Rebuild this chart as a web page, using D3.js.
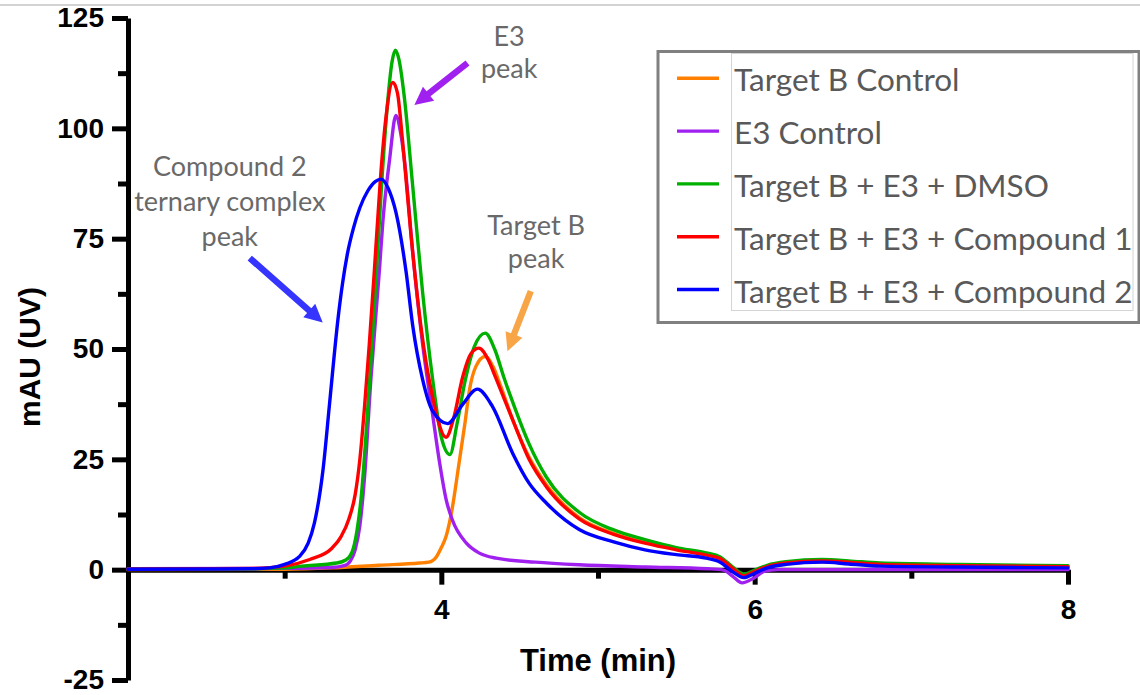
<!DOCTYPE html>
<html>
<head>
<meta charset="utf-8">
<script src="https://cdn.jsdelivr.net/npm/d3@7"></script>
<style>
  body { margin: 0; background: #fff; }
  svg { display: block; }
</style>
</head>
<body>
<svg id="chart"></svg>
<script>
'use strict';

// chromatogram traces, [time (min), mAU]
var targetBControl = [
  [2.0, 0], [3.0, 0.1], [3.3, 0.4], [3.6, 1.0], [3.86, 1.5], [3.92, 1.7], [3.97, 3], [4.0, 5],
  [4.03, 7.5], [4.07, 14], [4.11, 23.4], [4.15, 33], [4.18, 40.8], [4.22, 46], [4.28, 48.3],
  [4.33, 46], [4.38, 41.5], [4.455, 34], [4.56, 25.5], [4.67, 19.3], [4.88, 11.8], [5.1, 8.2],
  [5.3, 6.2], [5.5, 4.7], [5.69, 3.5], [5.78, 2.6], [5.86, 0.5], [5.93, -1.2], [6.0, -0.4],
  [6.08, 0.6], [6.2, 1.3], [6.43, 1.8], [6.8, 1.1], [7.3, 0.8], [8.0, 0.6]
];
var e3Control = [
  [2.0, 0.2], [3.0, 0.3], [3.3, 0.5], [3.38, 0.9], [3.42, 2.0], [3.45, 4.5], [3.48, 10],
  [3.51, 21], [3.55, 43], [3.605, 68], [3.627, 79], [3.67, 93], [3.71, 102.9], [3.74, 99],
  [3.764, 93], [3.817, 72], [3.88, 51.3], [3.945, 35], [3.99, 24], [4.03, 16], [4.07, 11.3],
  [4.16, 6.0], [4.24, 3.8], [4.35, 2.6], [4.6, 1.7], [4.88, 1.1], [5.3, 0.6], [5.7, 0.2],
  [5.8, -0.1], [5.86, -1.5], [5.92, -3.0], [5.99, -2.0], [6.06, -0.4], [6.15, 0], [8.0, 0]
];
var dmso = [
  [2.0, 0.1], [2.8, 0.2], [3.0, 0.4], [3.11, 0.8], [3.33, 1.5], [3.39, 2.2], [3.43, 4],
  [3.46, 8.5], [3.49, 17], [3.52, 31], [3.55, 47], [3.58, 64], [3.62, 88], [3.655, 105],
  [3.685, 115], [3.707, 117.7], [3.73, 115.5], [3.764, 107], [3.817, 87], [3.88, 63],
  [3.945, 43], [4.0, 30], [4.055, 26.1], [4.1, 33], [4.15, 42.5], [4.21, 50.5], [4.28, 53.6],
  [4.34, 50], [4.4, 43.5], [4.455, 38], [4.56, 28.5], [4.67, 21], [4.88, 13], [5.1, 9.0],
  [5.3, 6.8], [5.5, 5.0], [5.69, 3.8], [5.78, 2.9], [5.86, 0.6], [5.93, -1.0], [6.0, -0.1],
  [6.08, 1.0], [6.2, 1.8], [6.43, 2.3], [6.6, 2.0], [6.8, 1.5], [7.3, 1.2], [8.0, 0.9]
];
var compound1 = [
  [2.0, 0.1], [2.8, 0.3], [3.0, 0.8], [3.16, 2.3], [3.3, 4.8], [3.36, 7.5], [3.41, 11.5],
  [3.45, 17], [3.48, 25], [3.51, 37], [3.54, 51], [3.573, 68], [3.61, 88], [3.645, 102],
  [3.69, 110.4], [3.72, 108], [3.753, 97], [3.806, 76], [3.87, 55], [3.945, 39], [4.03, 30],
  [4.08, 34.5], [4.135, 43.5], [4.19, 49], [4.24, 50.2], [4.3, 47.5], [4.347, 43.5],
  [4.455, 34], [4.56, 25], [4.67, 18.8], [4.88, 11.5], [5.1, 8.0], [5.3, 6.0], [5.5, 4.5],
  [5.69, 3.3], [5.78, 2.5], [5.86, 0.3], [5.93, -1.4], [6.0, -0.4], [6.08, 0.7], [6.2, 1.5],
  [6.43, 2.0], [6.6, 1.7], [6.8, 1.2], [7.3, 0.9], [8.0, 0.7]
];
var compound2 = [
  [2.0, 0.1], [2.8, 0.2], [2.904, 0.4], [3.0, 1.2], [3.095, 3.0], [3.15, 6], [3.19, 10.6],
  [3.245, 22.7], [3.287, 37.8], [3.34, 56.7], [3.37, 65], [3.4, 71.5], [3.44, 77.5],
  [3.48, 82], [3.53, 85.8], [3.58, 88], [3.616, 88.5], [3.66, 86.5], [3.71, 81], [3.775, 67.5],
  [3.817, 55.4], [3.88, 43.2], [3.945, 35.9], [4.04, 33.1], [4.135, 37.4], [4.23, 40.9],
  [4.326, 37], [4.455, 26.4], [4.56, 19.6], [4.67, 15.1], [4.88, 9.1], [5.1, 6.3], [5.3, 4.5],
  [5.5, 3.4], [5.69, 2.6], [5.78, 1.7], [5.86, -0.5], [5.93, -1.8], [6.0, -0.8], [6.08, 0.4],
  [6.2, 1.2], [6.43, 1.7], [6.6, 1.3], [6.8, 0.8], [7.3, 0.6], [8.0, 0.4]
];

var seriesNames = ["Target B Control", "E3 Control", "Target B + E3 + DMSO",
  "Target B + E3 + Compound 1", "Target B + E3 + Compound 2"];
var seriesData = [targetBControl, e3Control, dmso, compound1, compound2];
var seriesColors = ["#ff8000", "#a020f0", "#00b000", "#ff0000", "#0000ff"];

var xTicks = [4, 6, 8];
var xMinorTicks = [3, 5, 7];
var yTicks = [-25, 0, 25, 50, 75, 100, 125];
var yMinorTicks = [-12.5, 12.5, 37.5, 62.5, 87.5, 112.5];

// annotation text lines and arrows, in data units
var notes = [
  { lines: ["Compound 2", "ternary complex", "peak"], t: 2.65, v: [89.1, 81.2, 73.4] },
  { lines: ["E3", "peak"], t: 4.433, v: [118.6, 111.5] },
  { lines: ["Target B", "peak"], t: 4.605, v: [75.9, 68.4] }
];
var arrows = [
  { from: [2.777, 70.6], to: [3.243, 56.0], color: "#3535ff" },
  { from: [4.167, 114.8], to: [3.828, 105.3], color: "#a020f0" },
  { from: [4.571, 63.1], to: [4.422, 49.5], color: "#f8a548" }
];

var svgWidth = 1140, svgHeight = 695;

var svg = d3.select('#chart')
    .attr("width", svgWidth)
    .attr("height", svgHeight);

var x = d3.scaleLinear().domain([2, 8]).range([128, 1068]);
var y = d3.scaleLinear().domain([-25, 125]).range([680, 18]);

// thin frame line along the top
svg.append("line")
    .attr("x1", 0).attr("x2", svgWidth)
    .attr("y1", 5).attr("y2", 5)
    .attr("stroke", "#c4c4c4")
    .attr("stroke-width", 1.5);

var tickFont = "'Liberation Sans', Arial, sans-serif";
var plain = function (d) { return String(d) };

// y axis
svg.append("g")
    .attr("transform", "translate(" + x(2) + ",0)")
    .call(d3.axisLeft(y).tickValues(yTicks).tickFormat(plain)
        .tickSize(16).tickSizeOuter(0).tickPadding(8));
svg.append("g")
    .attr("transform", "translate(" + x(2) + ",0)")
    .call(d3.axisLeft(y).tickValues(yMinorTicks).tickSize(10).tickFormat(""))
    .select(".domain").remove();

// x axis sits on the zero line
svg.append("g")
    .attr("transform", "translate(0," + y(0) + ")")
    .call(d3.axisBottom(x).tickValues(xTicks).tickFormat(plain)
        .tickSize(15).tickSizeOuter(0).tickPadding(14));
svg.append("g")
    .attr("transform", "translate(0," + y(0) + ")")
    .call(d3.axisBottom(x).tickValues(xMinorTicks).tickSize(9).tickFormat(""))
    .select(".domain").remove();

svg.selectAll(".domain").attr("stroke", "#000").attr("stroke-width", 5);
svg.selectAll(".tick line").attr("stroke", "#000").attr("stroke-width", 5);
svg.selectAll(".tick text")
    .attr("fill", "#000")
    .style("font-family", tickFont)
    .style("font-weight", "bold")
    .style("font-size", "28px");

svg.append("text")
    .attr("x", (x(2) + x(8)) / 2)
    .attr("y", 671)
    .attr("text-anchor", "middle")
    .style("font-family", tickFont)
    .style("font-weight", "bold")
    .style("font-size", "31px")
    .text("Time (min)");

svg.append("text")
    .attr("transform", "translate(40," + ((y(125) + y(-25)) / 2 + 8) + ") rotate(-90)")
    .attr("text-anchor", "middle")
    .style("font-family", tickFont)
    .style("font-weight", "bold")
    .style("font-size", "30px")
    .text("mAU (UV)");

// traces
var line = d3.line()
    .x(function (d) { return x(d[0]) })
    .y(function (d) { return y(d[1]) })
    .curve(d3.curveMonotoneX);

seriesData.forEach(function (data, i) {
    svg.append("path")
        .datum(data)
        .attr("fill", "none")
        .attr("stroke", seriesColors[i])
        .attr("stroke-width", 3.4)
        .attr("stroke-linejoin", "round")
        .attr("stroke-linecap", "round")
        .attr("d", line);
});

// annotations
var noteFont = "Lato, 'Open Sans', sans-serif";
notes.forEach(function (n) {
    n.lines.forEach(function (s, k) {
        svg.append("text")
            .attr("x", x(n.t))
            .attr("y", y(n.v[k]))
            .attr("text-anchor", "middle")
            .attr("fill", "#696969")
            .style("font-family", noteFont)
            .style("font-size", "27px")
            .text(s);
    });
});

arrows.forEach(function (a) {
    var x1 = x(a.from[0]), y1 = y(a.from[1]);
    var x2 = x(a.to[0]), y2 = y(a.to[1]);
    var ang = Math.atan2(y2 - y1, x2 - x1);
    var len = Math.hypot(x2 - x1, y2 - y1);
    var headLen = 18, headHalf = 9, shaftHalf = 3.2;
    var pts = [
        [0, -shaftHalf], [len - headLen, -shaftHalf], [len - headLen, -headHalf],
        [len, 0], [len - headLen, headHalf], [len - headLen, shaftHalf], [0, shaftHalf]
    ];
    svg.append("polygon")
        .attr("points", pts.map(function (p) { return p.join(",") }).join(" "))
        .attr("transform", "translate(" + x1 + "," + y1 + ") rotate(" + (ang * 180 / Math.PI) + ")")
        .attr("fill", a.color);
});

// legend
var legend = svg.append("g");
legend.append("rect")
    .attr("x", 658).attr("y", 51.5)
    .attr("width", 481).attr("height", 271)
    .attr("fill", "#fff")
    .attr("stroke", "#808080")
    .attr("stroke-width", 3);
legend.append("rect")
    .attr("x", 731.5).attr("y", 53.5)
    .attr("width", 401.5).attr("height", 257)
    .attr("fill", "none")
    .attr("stroke", "#d4d4d4")
    .attr("stroke-width", 1);

seriesNames.forEach(function (name, i) {
    var ly = 78.3 + i * 52.8;
    legend.append("line")
        .attr("x1", 677).attr("x2", 719)
        .attr("y1", ly).attr("y2", ly)
        .attr("stroke", seriesColors[i])
        .attr("stroke-width", 3.4);
    legend.append("text")
        .attr("x", 734)
        .attr("y", ly + 13)
        .attr("fill", "#595959")
        .style("font-family", noteFont)
        .style("font-size", "31.5px")
        .text(name);
});
</script>
</body>
</html>
